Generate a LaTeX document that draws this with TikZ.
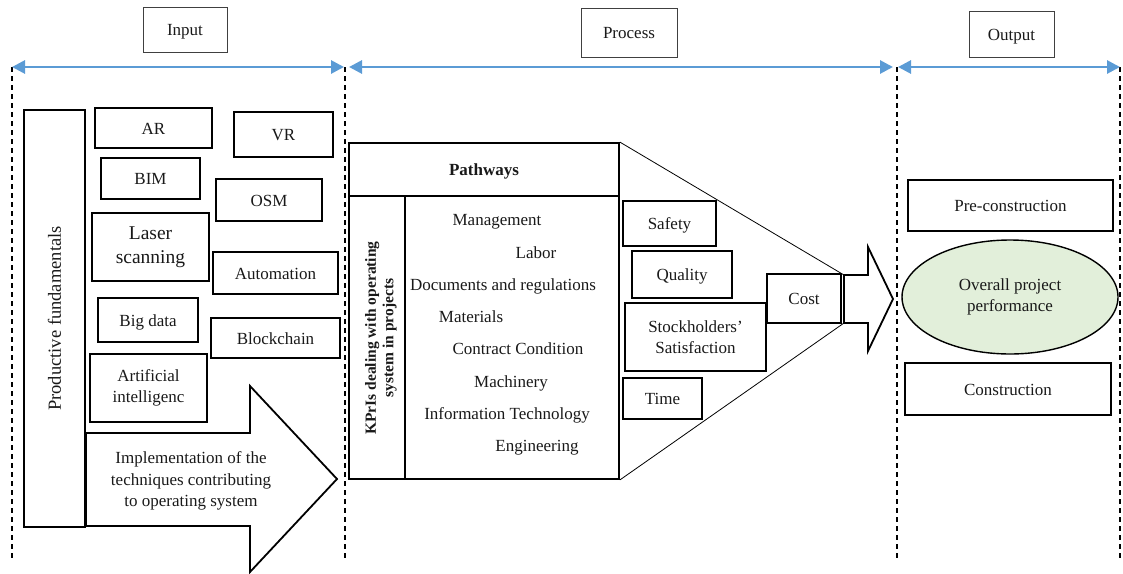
\documentclass[tikz,border=0pt]{standalone}
\usepackage{fontspec}
\setmainfont{Liberation Serif}
\usetikzlibrary{arrows.meta,shapes.geometric}
\definecolor{spanblue}{HTML}{5B9BD5}
\definecolor{paleGreen}{HTML}{E2EFDA}

\begin{document}
\begin{tikzpicture}[x=1pt,y=-1pt,
  every node/.style={font=\fontsize{17}{21.5}\selectfont, text=black!90},
  box/.style={draw, line width=1.8pt, inner sep=0pt, align=center},
  one/.style={text height=15pt, text depth=3pt},
  hdr/.style={draw=black!75, line width=1pt, inner sep=0pt, one},
  span/.style={draw=spanblue, line width=2.8pt,
    {Triangle[length=13pt,width=13pt]}-{Triangle[length=13pt,width=13pt]}},
  lane/.style={dash pattern=on 5pt off 4pt, line width=1.2pt},
  fat/.style={line width=1.8pt, line join=miter},
  item/.style={inner sep=0pt, one},
  ]
\useasboundingbox (0,0) rectangle (1123,573);

% ---------- phase headers, spans and lanes ----------
\node[hdr, minimum width=84pt, minimum height=45pt] (hin) at (185,29.5) {Input};
\node[hdr, minimum width=96pt, minimum height=49pt] (hpr) at (629,32.5) {Process};
\node[hdr, minimum width=85pt, minimum height=46pt] (hout) at (1011.5,34) {Output};

\coordinate (l1t) at (12,67);   \coordinate (l1b) at (12,558);
\coordinate (l2t) at (345,67);  \coordinate (l2b) at (345,558);
\coordinate (l3t) at (897,67);  \coordinate (l3b) at (897,558);
\coordinate (l4t) at (1120,67); \coordinate (l4b) at (1120,558);

\draw[lane] (l1t) -- (l1b);
\draw[lane] (l2t) -- (l2b);
\draw[lane] (l3t) -- (l3b);
\draw[lane] (l4t) -- (l4b);

\draw[span] (l1t) -- ([xshift=-1pt]l2t);
\draw[span] ([xshift=4pt]l2t) -- ([xshift=-4pt]l3t);
\draw[span] ([xshift=1pt]l3t) -- (l4t);

% ---------- input: techniques ----------
\node[box, minimum width=61pt, minimum height=417pt] (prod) at (54.5,318.5) {};
\node[rotate=90, font=\fontsize{18.5}{22}\selectfont] at (prod.center) {Productive fundamentals};

\node[box, one, minimum width=117pt, minimum height=40pt] (ar) at (153.5,128) {AR};
\node[box, one, minimum width=99pt, minimum height=45pt] (vr) at (283.5,134.5) {VR};
\node[box, one, minimum width=99pt, minimum height=41pt] (bim) at (150.5,178.5) {BIM};
\node[box, one, minimum width=106pt, minimum height=42pt] (osm) at (269,200) {OSM};
\node[box, minimum width=117pt, minimum height=68pt,
      font=\fontsize{19.5}{24}\selectfont] (laser) at (150.5,247) {Laser\\scanning};
\node[box, one, minimum width=125pt, minimum height=42pt] (auto) at (275.5,273) {Automation};
\node[box, one, minimum width=100pt, minimum height=44pt] (big) at (148,320) {Big data};
\node[box, one, minimum width=129pt, minimum height=40pt] (block) at (275.5,338) {Blockchain};
\node[box, minimum width=117pt, minimum height=68pt] (ai) at (148.5,388) {Artificial\\intelligenc};

% big implementation arrow
\coordinate (ia1) at (86,433);
\coordinate (ia2) at (250,433);
\coordinate (ia3) at (250,386);
\coordinate (ia4) at (337,479);
\coordinate (ia5) at (250,572);
\coordinate (ia6) at (250,526);
\coordinate (ia7) at (86,526);
\draw[fat] (ia1) -- (ia2) -- (ia3) -- (ia4) -- (ia5) -- (ia6) -- (ia7) -- cycle;
\node[align=center, inner sep=0pt] (impl) at (191,481)
  {Implementation of the\\techniques contributing\\to operating system};

% ---------- process: pathways and KPIs ----------
\node[box, one, minimum width=270pt, minimum height=53pt,
      font=\fontsize{17}{21}\selectfont\bfseries] (path) at (484,169.5) {Pathways};
\node[box, minimum width=56pt, minimum height=283pt] (kpi) at (377,337.5) {};
\node[box, minimum width=214pt, minimum height=283pt] (list) at (512,337.5) {};
\node[rotate=90, align=center, inner sep=0pt,
      font=\fontsize{15.5}{17.5}\selectfont\bfseries] at (381,338)
  {KPrIs dealing with operating\\system in projects};

\node[item] (p1) at (497,219) {Management};
\node[item] (p2) at (536,252) {Labor};
\node[item] (p3) at (503,284) {Documents and regulations};
\node[item] (p4) at (471,316) {Materials};
\node[item] (p5) at (518,348) {Contract Condition};
\node[item] (p6) at (511,381) {Machinery};
\node[item] (p7) at (507,413) {Information Technology};
\node[item] (p8) at (537,445) {Engineering};

% performance arrow toward the output
\coordinate (ra1) at (844,275);
\coordinate (ra2) at (868,275);
\coordinate (ra3) at (868,247);
\coordinate (ra4) at (893,299);
\coordinate (ra5) at (868,351);
\coordinate (ra6) at (868,323);
\coordinate (ra7) at (844,323);

% funnel
\draw[line width=0.8pt] (path.north east) -- (ra1);
\draw[line width=0.8pt] (list.south east) -- (ra7);

\node[box, one, minimum width=93pt, minimum height=45pt] (safety) at (669.5,223.5) {Safety};
\node[box, one, minimum width=100pt, minimum height=47pt] (quality) at (682,274.5) {Quality};
\node[box, minimum width=141pt, minimum height=68pt] (stock) at (695.5,337) {Stockholders’\\Satisfaction};
\node[box, one, minimum width=74pt, minimum height=49pt] (cost) at (804,298.5) {Cost};
\node[box, one, minimum width=79pt, minimum height=41pt] (time) at (662.5,398.5) {Time};

\draw[fat, fill=white] (ra1) -- (ra2) -- (ra3) -- (ra4) -- (ra5) -- (ra6) -- (ra7) -- cycle;

% ---------- output ----------
\node[box, one, minimum width=205pt, minimum height=51pt] (pre) at (1010.5,205.5) {Pre-construction};
\node[ellipse, draw, line width=1.4pt, fill=paleGreen, inner sep=0pt,
      minimum width=216pt, minimum height=114pt, align=center] (overall) at (1010,297)
  {Overall project\\performance};
\node[box, one, minimum width=206pt, minimum height=52pt] (cons) at (1008,389) {Construction};
\end{tikzpicture}
\end{document}
